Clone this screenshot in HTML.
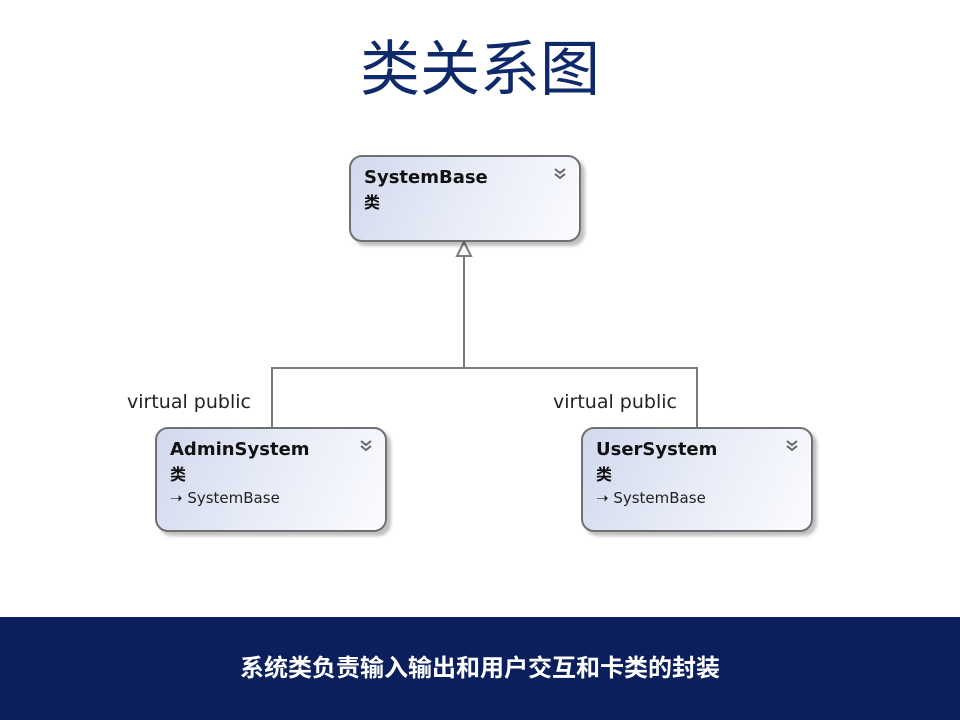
<!DOCTYPE html>
<html><head><meta charset="utf-8"><style>
body{margin:0;width:960px;height:720px;position:relative;background:#fff;overflow:hidden;font-family:"DejaVu Sans","Liberation Sans","Noto Sans CJK SC",sans-serif;}
.t{position:absolute;left:0;width:960px;top:30px;text-align:center;font-family:"Liberation Sans","Noto Sans CJK SC",sans-serif;font-size:60px;line-height:80px;color:#0f2a6a;}
.box{position:absolute;box-sizing:border-box;border:2px solid #707070;border-radius:13px;background:linear-gradient(115deg,#d2d9ee 0%,#e8ecf7 50%,#fbfcff 100%);box-shadow:4px 4px 3px rgba(0,0,0,0.25);}
.n{position:absolute;left:13px;top:10px;font-weight:bold;font-size:18px;color:#111;}
.c{position:absolute;left:13px;top:32px;font-size:16px;color:#111;font-family:"Noto Sans CJK SC",sans-serif;font-weight:bold;}
.b{position:absolute;left:13px;top:60px;font-size:15px;color:#222;}
.ch{position:absolute;right:12px;top:10px;}
.lbl{position:absolute;font-size:19px;color:#222;}
.foot{position:absolute;left:0;top:617px;width:960px;height:103px;background:#0b1f5c;color:#fff;text-align:center;font-family:"Liberation Sans","Noto Sans CJK SC",sans-serif;font-weight:bold;font-size:24px;line-height:103px;}
</style></head><body>
<div class="t">类关系图</div>
<svg style="position:absolute;left:0;top:0" width="960" height="720">
<g stroke="#7a7a7a" stroke-width="2" fill="none">
<line x1="464" y1="256" x2="464" y2="368"/>
<polyline points="272,427 272,368 697,368 697,427"/>
<polygon points="464,242 457,256 471,256" fill="#fff"/>
</g></svg>
<div class="box" style="left:349px;top:155px;width:232px;height:87px;"><div class="n">SystemBase</div><div class="c">类</div><svg class="ch" width="14" height="14"><g stroke="#666" stroke-width="2" fill="none"><polyline points="2,2 7,6 12,2"/><polyline points="2,7 7,11 12,7"/></g></svg></div>
<div class="box" style="left:155px;top:427px;width:232px;height:105px;"><div class="n">AdminSystem</div><div class="c">类</div><div class="b">➝ SystemBase</div><svg class="ch" width="14" height="14"><g stroke="#666" stroke-width="2" fill="none"><polyline points="2,2 7,6 12,2"/><polyline points="2,7 7,11 12,7"/></g></svg></div>
<div class="box" style="left:581px;top:427px;width:232px;height:105px;"><div class="n">UserSystem</div><div class="c">类</div><div class="b">➝ SystemBase</div><svg class="ch" width="14" height="14"><g stroke="#666" stroke-width="2" fill="none"><polyline points="2,2 7,6 12,2"/><polyline points="2,7 7,11 12,7"/></g></svg></div>
<div class="lbl" style="left:127px;top:391px;">virtual public</div>
<div class="lbl" style="left:553px;top:391px;">virtual public</div>
<div class="foot">系统类负责输入输出和用户交互和卡类的封装</div>
</body></html>
